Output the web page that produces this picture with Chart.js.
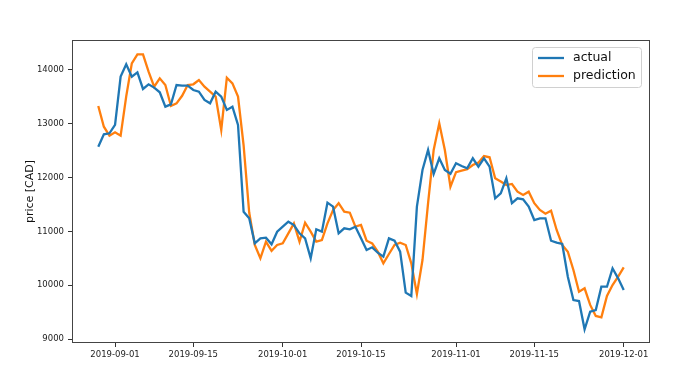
<!DOCTYPE html>
<html>
<head>
<meta charset="utf-8">
<script src="https://cdn.jsdelivr.net/npm/chart.js@4.4.1/dist/chart.umd.min.js"></script>
<style>
  html, body { margin: 0; padding: 0; background: #fff; }
</style>
</head>
<body>
<canvas id="precio" width="700" height="388"></canvas>
<script>
// datos diarios, primer dia 2019-08-29
const primerDia = '2019-08-29';
const actual = [12575,12804,12823,12978,13876,14105,13876,13957,13647,13734,
  13672,13585,13318,13362,13721,13710,13709,13628,13597,13442,
  13380,13597,13504,13257,13318,12978,11366,11243,10778,10871,
  10883,10760,10995,11088,11180,11119,10964,10871,10500,11039,
  10995,11534,11460,10964,11057,11039,11088,10871,10654,10704,
  10604,10530,10871,10827,10623,9862,9799,11460,12141,12513,
  12067,12359,12141,12070,12265,12216,12172,12359,12203,12359,
  12203,11615,11708,11987,11524,11615,11596,11460,11212,11243,
  11243,10827,10790,10766,10158,9725,9706,9180,9507,9539,
  9972,9972,10314,10128,9911];
const prediccion = [13331,12946,12779,12842,12779,13510,14124,14291,14291,13969,
  13690,13845,13721,13331,13380,13520,13721,13734,13814,13690,
  13597,13504,12885,13857,13752,13504,12600,11350,10747,10500,
  10809,10640,10747,10778,10964,11150,10809,11162,10995,10809,
  10840,11150,11398,11524,11366,11348,11088,11119,10827,10778,
  10623,10407,10580,10747,10790,10747,10407,9836,10468,11524,
  12513,13009,12513,11831,12100,12128,12154,12234,12277,12401,
  12377,11987,11926,11862,11881,11738,11677,11738,11524,11398,
  11330,11386,11026,10747,10623,10283,9880,9942,9634,9428,
  9403,9799,10004,10158,10333];
const xTicks = ['2019-09-01','2019-09-15','2019-10-01','2019-10-15','2019-11-01','2019-11-15','2019-12-01'];
const yTicks = [9000,10000,11000,12000,13000,14000];

const DIA = 86400000;
const t0 = Date.parse(primerDia);
const aPuntos = arr => arr.map((v, i) => ({ x: t0 + i * DIA, y: v }));

const marco = {
  id: 'marco',
  afterDatasetsDraw(chart) {
    const { ctx, chartArea: a } = chart;
    ctx.save();
    ctx.strokeStyle = '#444';
    ctx.lineWidth = 1;
    ctx.strokeRect(a.left + 0.5, a.top + 0.5, a.right - a.left - 1, a.bottom - a.top - 1);

    // leyenda arriba a la derecha
    const bx = a.right - 118, by = a.top + 7, bw = 109, bh = 40;
    ctx.fillStyle = 'rgba(255,255,255,0.85)';
    ctx.strokeStyle = '#d0d0d0';
    ctx.beginPath();
    ctx.roundRect(bx + 0.5, by + 0.5, bw, bh, 3);
    ctx.fill();
    ctx.stroke();
    ctx.font = '12.5px "DejaVu Sans"';
    ctx.textBaseline = 'middle';
    chart.data.datasets.forEach((ds, i) => {
      const y = by + 11 + i * 18;
      ctx.strokeStyle = ds.borderColor;
      ctx.lineWidth = 2.3;
      ctx.beginPath();
      ctx.moveTo(bx + 6, y);
      ctx.lineTo(bx + 32, y);
      ctx.stroke();
      ctx.fillStyle = '#111';
      ctx.fillText(ds.label, bx + 41, y);
    });
    ctx.restore();
  }
};

new Chart(document.getElementById('precio'), {
  type: 'line',
  data: {
    datasets: [
      { label: 'actual', data: aPuntos(actual), borderColor: '#1f77b4', borderWidth: 2.3, pointRadius: 0, tension: 0 },
      { label: 'prediction', data: aPuntos(prediccion), borderColor: '#ff7f0e', borderWidth: 2.3, pointRadius: 0, tension: 0 }
    ]
  },
  options: {
    responsive: false,
    animation: false,
    layout: { padding: { top: 40, right: 50, left: 0, bottom: 0 } },
    plugins: { legend: { display: false }, tooltip: { enabled: false } },
    scales: {
      x: {
        type: 'linear',
        min: t0 - 4.7 * DIA,
        max: t0 + 98.7 * DIA,
        afterBuildTicks: s => { s.ticks = xTicks.map(d => ({ value: Date.parse(d) })); },
        afterFit: s => { s.height = 45; },
        ticks: {
          callback: (v, i) => xTicks[i],
          font: { family: 'DejaVu Sans', size: 8.5 },
          color: '#222',
          maxRotation: 0,
          autoSkip: false,
          padding: 3
        },
        grid: { drawOnChartArea: false, drawTicks: true, tickLength: 4, color: '#333' },
        border: { display: false }
      },
      y: {
        min: 8926,
        max: 14557,
        afterBuildTicks: s => { s.ticks = yTicks.map(v => ({ value: v })); },
        afterFit: s => { s.width = 72; },
        ticks: {
          callback: v => String(v),
          font: { family: 'DejaVu Sans', size: 8.5 },
          color: '#222',
          padding: 4
        },
        grid: { drawOnChartArea: false, drawTicks: true, tickLength: 4, color: '#333' },
        border: { display: false },
        title: {
          display: true,
          text: 'price [CAD]',
          font: { family: 'DejaVu Sans', size: 11 },
          color: '#111',
          padding: { top: 24, bottom: 0 }
        }
      }
    }
  },
  plugins: [marco]
});
</script>
</body>
</html>
